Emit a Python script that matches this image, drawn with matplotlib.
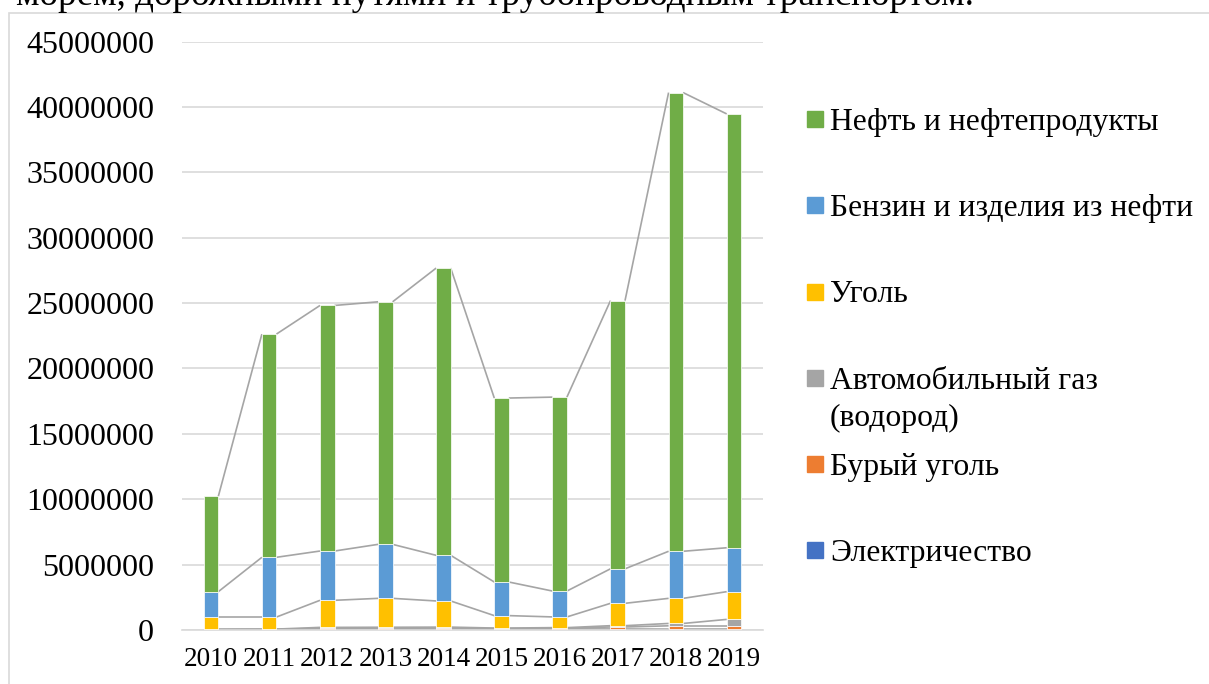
import numpy as np
import matplotlib.pyplot as plt
from matplotlib.patches import Rectangle

years = ["2010", "2011", "2012", "2013", "2014", "2015", "2016", "2017", "2018", "2019"]

# values per series, bottom to top of the stack
electricity = [30000, 40000, 100000, 110000, 110000, 80000, 90000, 80000, 70000, 70000]
brown_coal = [10000, 10000, 30000, 30000, 40000, 30000, 40000, 150000, 250000, 250000]
auto_gas = [20000, 20000, 70000, 70000, 70000, 40000, 50000, 100000, 180000, 490000]
coal = [930000, 920000, 2070000, 2210000, 2000000, 950000, 820000, 1710000, 1920000, 2120000]
gasoline = [1940000, 4570000, 3770000, 4130000, 3490000, 2570000, 1980000, 2640000, 3600000, 3360000]
oil = [7290000, 17070000, 18780000, 18550000, 21970000, 14070000, 14830000, 20510000, 35080000, 33180000]

series = [
    ("Электричество", electricity, "#4472C4"),
    ("Бурый уголь", brown_coal, "#ED7D31"),
    ("Автомобильный газ\n(водород)", auto_gas, "#A5A5A5"),
    ("Уголь", coal, "#FFC000"),
    ("Бензин и изделия из нефти", gasoline, "#5B9BD5"),
    ("Нефть и нефтепродукты", oil, "#70AD47"),
]

plt.rcParams['font.family'] = ['Liberation Serif', 'DejaVu Serif']

W, H = 1209, 684
fig = plt.figure(figsize=(W / 100, H / 100), dpi=100)
ax = fig.add_axes([182 / W, (H - 630) / H, (763 - 182) / W, (630 - 41.6) / H])

x = np.arange(len(years))
bw = 0.25
bottom = np.zeros(len(years))
levels = []
for name, vals, color in series:
    vals = np.array(vals, dtype=float)
    ax.bar(x, vals, bw, bottom=bottom, color=color, edgecolor='white', linewidth=0.5, zorder=3)
    bottom = bottom + vals
    levels.append(bottom.copy())

# series lines between neighbouring bars
for lev in levels:
    for i in range(len(years) - 1):
        ax.plot([x[i] + bw / 2, x[i + 1] - bw / 2], [lev[i], lev[i + 1]],
                color="#A5A5A5", lw=1.2, zorder=2, solid_capstyle='butt')

ax.set_xlim(-0.5, len(years) - 0.5)
ax.set_ylim(0, 45000000)
ax.set_yticks(np.arange(0, 45000001, 5000000))
ax.set_yticklabels([str(v) for v in range(0, 45000001, 5000000)])
ax.set_xticks(x)
ax.set_xticklabels(years)
ax.tick_params(axis='y', length=0, pad=20, labelsize=23)
ax.tick_params(axis='x', length=0, pad=12, labelsize=19.5)
ax.grid(axis='y', color="#D9D9D9", lw=1.2, zorder=0)
for s in ['top', 'right', 'left']:
    ax.spines[s].set_visible(False)
ax.spines['bottom'].set_color("#D9D9D9")
ax.spines['bottom'].set_linewidth(1.2)

# chart frame
fig.patches.append(Rectangle((9 / W, -0.1), 1.2, (H - 12.7) / H + 0.1, transform=fig.transFigure,
                             fill=False, edgecolor="#D9D9D9", lw=1.2))

# legend, drawn like the Excel one (marker next to the first line)
legend_y = [119, 205, 291.5, 378, 464, 549.7]
line_gap = 37
for (name, vals, color), yc in zip(series[::-1], legend_y):
    fig.patches.append(Rectangle((807 / W, (H - yc - 8) / H), 16 / W, 16 / H,
                                 transform=fig.transFigure, color=color))
    for k, line in enumerate(name.split("\n")):
        fig.text(830 / W, (H - yc - 11 - k * line_gap) / H, line, fontsize=22.8,
                 va='baseline', ha='left')

# cut-off caption above the chart
fig.text(16 / W, (H - 5) / H, "морем, дорожными путями и трубопроводным транспортом.",
         fontsize=26.7, va='baseline', ha='left')

fig.savefig("out.png", dpi=100)
